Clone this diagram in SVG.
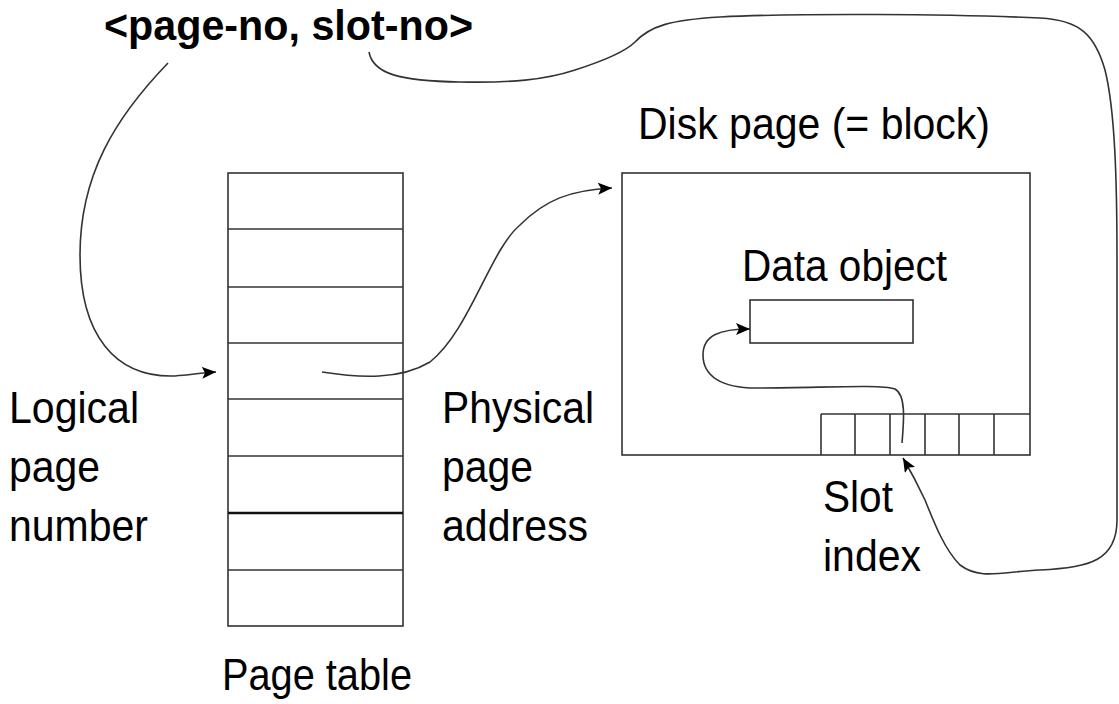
<svg xmlns="http://www.w3.org/2000/svg" width="1119" height="704" viewBox="0 0 1119 704">
  <style>
    .box { fill: none; stroke: #333; stroke-width: 1.6; }
    .rule { stroke: #333; stroke-width: 1.6; }
    .thick { stroke: #111; stroke-width: 2.6; }
    .lbl { font-family: "Liberation Sans", Arial, sans-serif; font-size: 44px; fill: #000; }
    .title { font-family: "Liberation Sans", Arial, sans-serif; font-size: 43px; font-weight: bold; fill: #000; }
    .wire { fill: none; stroke: #333; stroke-width: 1.6; }
  </style>
  <defs>
    <marker id="head" markerUnits="userSpaceOnUse" markerWidth="16" markerHeight="12" refX="14" refY="6" orient="auto">
      <path d="M0,0 L14,6 L0,12 L3,6 Z" fill="#000"/>
    </marker>
  </defs>
  <rect width="1119" height="704" fill="#fff"/>

  <!-- record id -->
  <g id="record-id">
    <text class="title" x="104" y="40" textLength="369" lengthAdjust="spacingAndGlyphs">&lt;page-no, slot-no&gt;</text>
  </g>

  <!-- page table: 8 rows -->
  <g id="page-table">
    <rect class="box" x="228" y="173" width="175" height="453"/>
    <line class="rule" x1="228" y1="229" x2="403" y2="229"/>
    <line class="rule" x1="228" y1="287" x2="403" y2="287"/>
    <line class="rule" x1="228" y1="343" x2="403" y2="343"/>
    <line class="rule" x1="228" y1="399" x2="403" y2="399"/>
    <line class="rule" x1="228" y1="456" x2="403" y2="456"/>
    <line class="thick" x1="228" y1="513" x2="403" y2="513"/>
    <line class="rule" x1="228" y1="570" x2="403" y2="570"/>
    <text class="lbl" x="317" y="690" text-anchor="middle" textLength="190" lengthAdjust="spacingAndGlyphs">Page table</text>
  </g>

  <!-- disk page -->
  <g id="disk-page">
    <text class="lbl" x="638" y="139" textLength="352" lengthAdjust="spacingAndGlyphs">Disk page (= block)</text>
    <rect class="box" x="622" y="173" width="408" height="282"/>
  </g>

  <!-- data object inside the page -->
  <g id="data-object">
    <text class="lbl" x="742" y="281" textLength="205" lengthAdjust="spacingAndGlyphs">Data object</text>
    <rect class="box" x="750" y="300" width="163" height="43"/>
  </g>

  <!-- slot directory -->
  <g id="slot-array">
    <line class="rule" x1="821" y1="414" x2="1030" y2="414"/>
    <line class="rule" x1="821" y1="414" x2="821" y2="455"/>
    <line class="rule" x1="855" y1="414" x2="855" y2="455"/>
    <line class="rule" x1="890" y1="414" x2="890" y2="455"/>
    <line class="rule" x1="925" y1="414" x2="925" y2="455"/>
    <line class="rule" x1="959" y1="414" x2="959" y2="455"/>
    <line class="rule" x1="994" y1="414" x2="994" y2="455"/>
    <text class="lbl" x="823" y="512" textLength="70" lengthAdjust="spacingAndGlyphs">Slot</text>
    <text class="lbl" x="823" y="571" textLength="98" lengthAdjust="spacingAndGlyphs">index</text>
  </g>

  <!-- side labels -->
  <g id="logical-label">
    <text class="lbl" x="9" y="423" textLength="130" lengthAdjust="spacingAndGlyphs">Logical</text>
    <text class="lbl" x="9" y="482" textLength="91" lengthAdjust="spacingAndGlyphs">page</text>
    <text class="lbl" x="9" y="541" textLength="139" lengthAdjust="spacingAndGlyphs">number</text>
  </g>
  <g id="physical-label">
    <text class="lbl" x="442" y="423" textLength="152" lengthAdjust="spacingAndGlyphs">Physical</text>
    <text class="lbl" x="442" y="482" textLength="91" lengthAdjust="spacingAndGlyphs">page</text>
    <text class="lbl" x="442" y="541" textLength="146" lengthAdjust="spacingAndGlyphs">address</text>
  </g>

  <!-- connectors -->
  <g id="connectors">
    <path class="wire" marker-end="url(#head)" d="M168,63 C115,118 80,175 80,255 C80,335 115,378 175,376 C190,375 200,373 216,372"/>
    <path class="wire" marker-end="url(#head)" d="M322,372 C360,378 400,380 430,362 C470,330 490,250 520,225 C545,200 570,190 612,188"/>
    <path class="wire" marker-end="url(#head)" d="M369,52 C373,74 400,81 460,82 C510,83 545,80 575,70 C600,62 625,52 635,42 C650,26 670,20 720,17 C800,13 950,14 1040,18 C1080,20 1095,35 1105,70 C1115,110 1117,180 1117,260 L1117,520 C1117,560 1090,568 1040,570 C1000,572 980,580 960,565 C945,550 935,525 925,500 C918,485 910,470 903,458"/>
    <path class="wire" marker-end="url(#head)" d="M902,443 C904,420 906,395 895,389 C880,384 820,388 760,388 C720,389 703,375 703,355 C703,335 720,329 750,329"/>
  </g>
</svg>
